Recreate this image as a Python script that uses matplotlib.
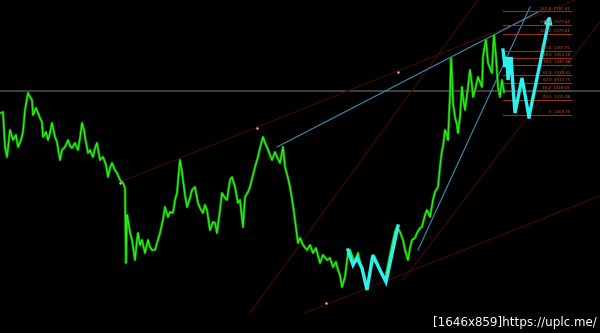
"""Price chart with zigzag projection, fibonacci levels and trend channels (dark terminal style)."""
from pathlib import Path
import matplotlib
matplotlib.use("Agg")
import matplotlib.pyplot as plt

OUT = Path("out.png")

# green close line, bar index -> price
bars = [
    1, 3, 5, 7, 10, 13, 16, 18, 21, 23, 25, 28, 30, 32, 33, 36, 38, 40, 42, 43,
    46, 48, 50, 52, 55, 57, 60, 62, 65, 68, 70, 72, 75, 78, 80, 82, 84, 85, 88, 90,
    93, 95, 97, 100, 103, 106, 108, 110, 112, 115, 117, 120, 123, 125, 126, 127, 128, 130, 132, 135,
    137, 138, 140, 142, 145, 148, 150, 152, 155, 158, 160, 163, 165, 168, 170, 173, 175, 177, 179, 180,
    182, 183, 185, 187, 190, 192, 195, 198, 200, 203, 205, 207, 210, 213, 215, 217, 220, 222, 225, 227,
    230, 232, 235, 238, 240, 243, 245, 248, 250, 253, 255, 258, 260, 263, 265, 267, 270, 272, 275, 277,
    280, 283, 285, 288, 290, 293, 295, 298, 300, 303, 307, 310, 313, 316, 320, 323, 327, 330, 333, 336,
    338, 340, 342, 345, 348, 350, 353, 355, 358, 360, 363, 367, 370, 372, 375, 377, 380, 385, 388, 392,
    395, 397, 400, 403, 405, 408, 410, 412, 415, 417, 420, 422, 425, 427, 430, 433, 435, 438, 440, 442,
    443, 445, 447, 448, 450, 451, 452, 453, 455, 457, 458, 460, 462, 463, 465, 467, 468, 470, 472, 473,
    475, 478, 480, 482, 483, 485, 486, 487, 488, 490, 492, 493, 494, 496, 498, 500, 502, 504,
]
close = [
    1311.25, 1312.0, 1285.75, 1278.25, 1298.5, 1291.0, 1294.75, 1285.75, 1291.0, 1297.0,
    1313.5, 1326.25, 1323.25, 1321.0, 1309.75, 1315.0, 1311.25, 1307.5, 1304.5, 1293.25,
    1297.0, 1291.0, 1296.25, 1303.75, 1293.25, 1289.5, 1276.0, 1283.5, 1285.75, 1291.0,
    1286.5, 1285.0, 1288.75, 1283.5, 1292.5, 1303.75, 1298.5, 1293.25, 1281.25, 1283.5,
    1278.25, 1285.0, 1288.75, 1276.0, 1278.25, 1272.25, 1263.25, 1270.0, 1273.75, 1268.5,
    1266.25, 1261.0, 1258.75, 1255.0, 1198.75, 1234.75, 1231.0, 1222.0, 1216.0, 1201.0,
    1216.0, 1221.25, 1212.25, 1216.0, 1206.25, 1216.0, 1210.75, 1208.5, 1208.5, 1216.0,
    1221.25, 1231.0, 1240.75, 1233.25, 1237.0, 1236.25, 1246.0, 1251.25, 1268.5, 1276.0,
    1267.0, 1261.0, 1249.75, 1240.75, 1247.5, 1253.5, 1255.75, 1243.75, 1240.0, 1236.25,
    1242.25, 1238.5, 1223.5, 1229.5, 1228.75, 1221.25, 1238.5, 1251.25, 1247.5, 1246.0,
    1261.0, 1263.25, 1255.75, 1243.75, 1246.0, 1225.75, 1248.25, 1252.0, 1255.75, 1264.75,
    1270.75, 1278.25, 1285.0, 1293.25, 1288.75, 1285.75, 1279.75, 1276.0, 1282.0, 1278.25,
    1273.75, 1285.75, 1270.75, 1262.5, 1255.75, 1242.25, 1231.0, 1213.75, 1217.5, 1212.25,
    1208.5, 1212.25, 1206.25, 1210.0, 1198.75, 1204.75, 1201.0, 1202.5, 1195.75, 1199.5,
    1193.5, 1189.75, 1180.75, 1188.25, 1206.25, 1208.5, 1202.5, 1199.5, 1206.25, 1199.5,
    1191.25, 1180.0, 1193.5, 1203.25, 1199.5, 1198.75, 1193.5, 1186.0, 1197.25, 1212.25,
    1222.0, 1225.75, 1222.0, 1216.0, 1208.5, 1201.0, 1210.0, 1216.0, 1217.5, 1221.25,
    1225.0, 1225.75, 1234.75, 1238.5, 1233.25, 1246.0, 1252.0, 1255.75, 1270.75, 1283.5,
    1285.75, 1298.5, 1294.75, 1291.0, 1324.75, 1352.5, 1339.75, 1318.75, 1308.25, 1302.25,
    1296.25, 1308.25, 1330.75, 1323.25, 1313.5, 1324.75, 1330.75, 1343.5, 1332.25, 1323.25,
    1328.5, 1338.25, 1334.5, 1330.75, 1353.25, 1362.25, 1366.0, 1357.0, 1348.75, 1345.0,
    1341.25, 1358.5, 1369.75, 1353.25, 1330.75, 1323.25, 1336.0, 1327.0,
]

# cyan zigzag waves (history and projection)
zz_hist_bars = [348, 353, 357, 362, 367, 373, 379, 386, 398]
zz_hist_price = [1208.5, 1197.25, 1202.5, 1195.0, 1178.5, 1204.75, 1195.0, 1184.5, 1226.5]
zz_proj_bars = [503, 505, 507, 508, 511, 512, 513, 515, 522, 529, 550]
zz_proj_price = [1358.5, 1345.75, 1353.25, 1336.0, 1353.25, 1342.0, 1330.75, 1311.25, 1337.5, 1308.25, 1384.75]

# fibonacci expansion
fib_levels = ["161.8", "141.4", "127.2", "100.0", "88.6", "78.6", "61.8", "50.0", "38.2", "23.6", "0"]
fib_prices = [1387.41, 1377.62, 1370.81, 1357.75, 1352.28, 1347.48, 1339.41, 1333.75, 1328.09, 1321.08, 1309.75]
fib_start, fib_end = 503, 571

# trend lines: (bar0, price0, bar1, price1)
cyan_lines = [
    (277, 1285.75, 540, 1387.75),
    (418, 1208.5, 530, 1390.75),
]
red_lines = [
    (120, 1259.5, 575, 1396.0),
    (305, 1161.25, 600, 1249.0),
    (250, 1161.25, 478, 1396.0),
    (403, 1186.0, 600, 1379.5),
]
pivot_bars = [120, 257, 398, 326]
pivot_price = [1258.75, 1300.0, 1342.0, 1168.75]
level_line = 1327.75

BG = "#000000"
GREEN_DARK = "#0f8a08"
GREEN = "#2cf014"
CYAN = "#2ef0f0"
TEAL = "#3c8fb4"
RED = "#3a0a0a"
FIB = "#9a3010"
FIB_TXT = "#d8582a"


def draw(ax):
    ax.axhline(level_line, color="#3e3e3e", lw=1.5, zorder=1)
    for b0, p0, b1, p1 in red_lines:
        ax.plot([b0, b1], [p0, p1], color=RED, lw=0.9, zorder=1)
    for b0, p0, b1, p1 in cyan_lines:
        ax.plot([b0, b1], [p0, p1], color=TEAL, lw=0.8, zorder=2)

    # fuzzy green price: dark halo + bright core
    ax.plot(bars, close, color=GREEN_DARK, lw=1.9, zorder=3)
    ax.plot(bars, close, color=GREEN, lw=0.9, zorder=4)

    for lv, pr in zip(fib_levels, fib_prices):
        ax.plot([fib_start, fib_end], [pr, pr], color=FIB, lw=0.8, zorder=2)
        ax.text(fib_end - 1, pr + 0.6, f"{lv}  {pr:.2f}", color=FIB_TXT, fontsize=2.8,
                ha="right", va="bottom", zorder=6)

    ax.plot(zz_hist_bars, zz_hist_price, color=CYAN, lw=2.4, zorder=5, solid_joinstyle="miter")
    ax.plot(zz_proj_bars[:-1], zz_proj_price[:-1], color=CYAN, lw=2.4, zorder=5, solid_joinstyle="miter")
    ax.annotate("", xy=(zz_proj_bars[-1], zz_proj_price[-1]),
                xytext=(zz_proj_bars[-2], zz_proj_price[-2]),
                arrowprops=dict(arrowstyle="-|>", color=CYAN, lw=2.4, mutation_scale=9,
                                shrinkA=0, shrinkB=0), zorder=5)

    ax.scatter(pivot_bars, pivot_price, s=3, color="#ffb0b0", zorder=6, linewidths=0)

    ax.text(0.995, 0.033, "[1646x859]https://uplc.me/", transform=ax.transAxes,
            color="white", fontsize=8.6, ha="right", va="center", zorder=7)


def main() -> None:
    fig = plt.figure(figsize=(6.0, 3.33), dpi=100, facecolor=BG)
    ax = fig.add_axes([0, 0, 1, 1])
    ax.set_facecolor(BG)
    ax.set_xlim(0, 600)
    ax.set_ylim(1146.25, 1396.0)
    ax.axis("off")
    draw(ax)
    fig.savefig(OUT, facecolor=BG)
    plt.close(fig)


if __name__ == "__main__":
    main()
